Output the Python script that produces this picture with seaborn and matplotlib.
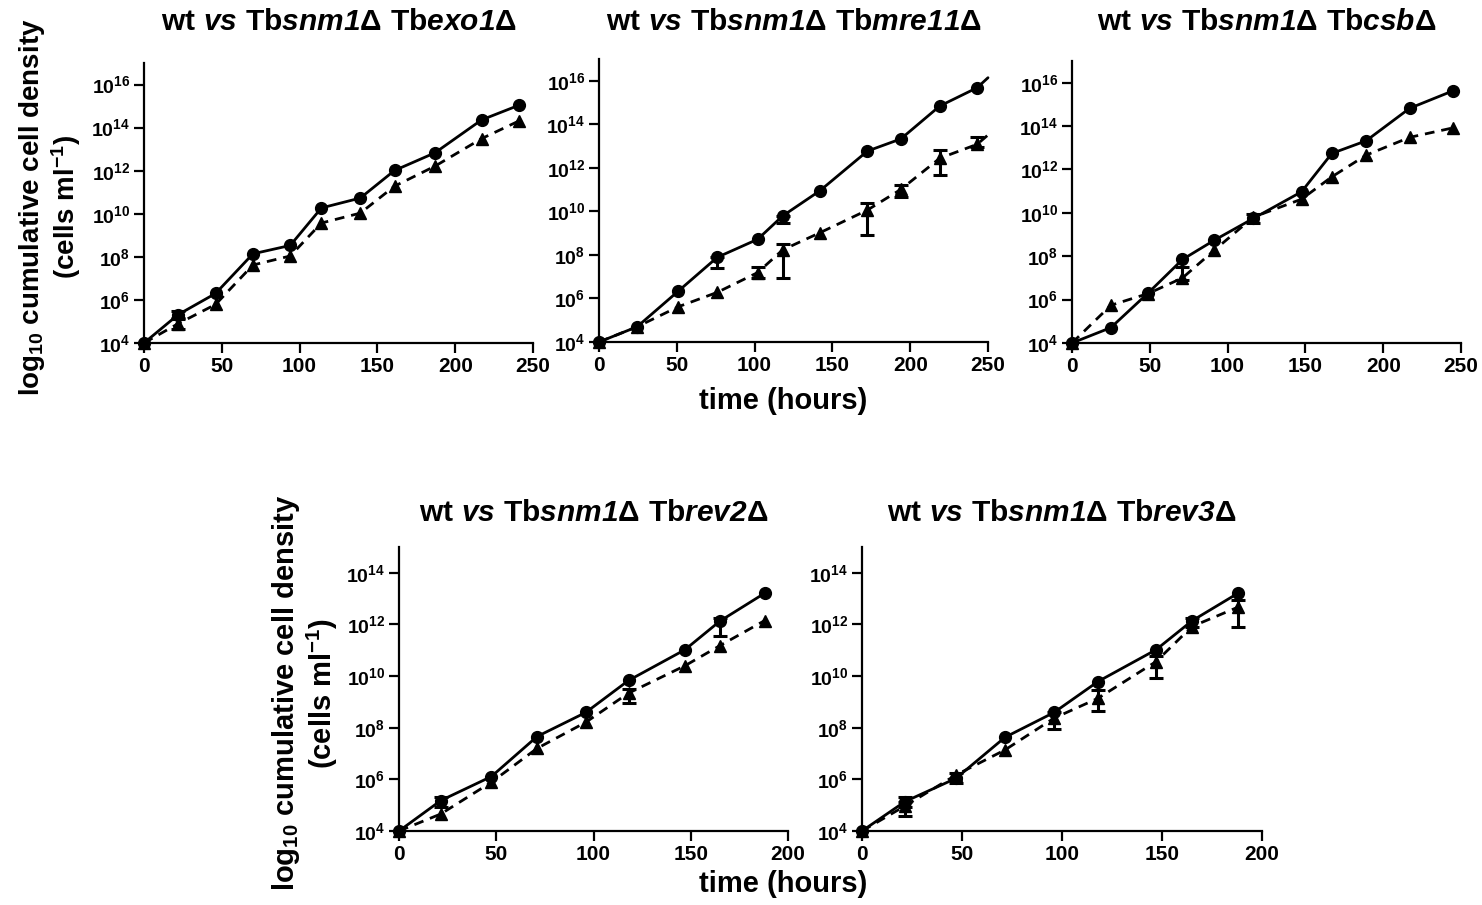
import numpy as np
import matplotlib
matplotlib.use("Agg")
import matplotlib.pyplot as plt
from matplotlib.ticker import FixedLocator, FuncFormatter, NullLocator
import seaborn as sns

# ---------- Data: log10 cumulative cell density ----------

exo1_time = [0, 22, 46, 70, 94, 114, 139, 161, 187, 217, 241]
exo1_wt = [4.0, 5.32, 6.30, 8.14, 8.53, 10.27, 10.73, 12.01, 12.83, 14.36, 15.04]
exo1_mut = [4.0, 4.90, 5.79, 7.62, 8.04, 9.57, 10.03, 11.28, 12.21, 13.49, 14.31]
# (time, low, high) error bars that stick out from the markers
exo1_err = [(22, 4.67, 5.13), (22, 5.15, 5.50)]

# last point of this panel is only where the lines run off the axis (no marker)
mre11_time = [0, 24.5, 51, 76, 102, 118, 142, 172.5, 194, 219, 243, 250]
mre11_wt = [4.0, 4.70, 6.34, 7.89, 8.72, 9.79, 10.95, 12.77, 13.33, 14.84, 15.68, 16.14]
mre11_mut = [4.0, 4.70, 5.62, 6.28, 7.19, 8.23, 9.02, 10.06, 11.01, 12.44, 13.08, 13.51]
mre11_err = [(76, 7.38, 7.89), (118, 9.45, 9.79), (102, 6.92, 7.46), (118, 6.92, 8.50),
             (172.5, 8.92, 10.37), (194, 10.68, 11.21), (219, 11.67, 12.82), (243, 12.97, 13.40)]

csb_time = [0, 25, 49, 71, 91.5, 116.5, 147.5, 167, 189, 217, 245]
csb_wt = [4.0, 4.71, 6.31, 7.85, 8.74, 9.74, 10.97, 12.74, 13.32, 14.82, 15.63]
csb_mut = [4.0, 5.74, 6.28, 7.00, 8.28, 9.80, 10.63, 11.66, 12.66, 13.48, 13.92]
csb_err = [(71, 6.90, 7.50), (116.5, 9.55, 9.95)]

rev2_time = [0, 21.5, 47.5, 71, 96, 118, 147, 165, 188]
rev2_wt = [4.0, 5.18, 6.11, 7.66, 8.59, 9.83, 11.02, 12.13, 13.21]
rev2_mut = [4.0, 4.66, 5.89, 7.20, 8.21, 9.34, 10.40, 11.18, 12.15]
rev2_err = [(21.5, 4.94, 5.33), (118, 8.97, 9.49), (165, 11.56, 12.24)]

rev3_time = [0, 21.5, 47, 71.5, 96, 118, 147, 165, 188]
rev3_wt = [4.0, 5.14, 6.04, 7.63, 8.59, 9.79, 11.02, 12.14, 13.21]
rev3_mut = [4.0, 4.97, 6.17, 7.14, 8.37, 9.14, 10.56, 11.92, 12.67]
rev3_err = [(21.5, 4.94, 5.33), (21.5, 4.58, 5.14), (47, 5.85, 6.24), (96, 7.94, 8.59),
            (118, 8.63, 9.47), (147, 9.92, 10.76), (165, 11.92, 12.24), (188, 11.92, 12.95)]

# gene names (italic parts of the titles)
genes = ["exo1", "mre11", "csb", "rev2", "rev3"]

# in the math strings below \mathrm is bold italic and \mathsf is bold upright
titles = [r"$\mathsf{wt}\ \mathrm{vs}\ \mathsf{Tb}\mathrm{snm1}\mathsf{\Delta}\ \mathsf{Tb}\mathrm{" + g
          + r"}\mathsf{\Delta}$" for g in genes]

ylabel = "$\\mathsf{log_{10}}$ cumulative cell density\n(cells ml$\\mathsf{^{-1}}$)"
xlabel = "time (hours)"

# ---------- Style ----------

sns.set_style("ticks", {"text.color": "black", "axes.labelcolor": "black",
                        "xtick.color": "black", "ytick.color": "black",
                        "axes.edgecolor": "black"})
plt.rcParams["font.family"] = ["Liberation Sans", "DejaVu Sans"]
plt.rcParams["font.weight"] = "bold"
plt.rcParams["mathtext.fontset"] = "custom"
plt.rcParams["mathtext.rm"] = "Liberation Sans:bold:italic"
plt.rcParams["mathtext.it"] = "Liberation Sans:bold:italic"
plt.rcParams["mathtext.sf"] = "Liberation Sans:bold"
plt.rcParams["mathtext.bf"] = "Liberation Sans:bold"

W, H = 1482, 905
fig = plt.figure(figsize=(W / 100, H / 100), dpi=100)


def px_axes(left, right, bottom, top):
    return fig.add_axes([left / W, 1 - bottom / H, (right - left) / W, (bottom - top) / H])


panels = [
    dict(ax=px_axes(144, 533, 343, 63), t=exo1_time, wt=exo1_wt, mut=exo1_mut, err=exo1_err,
         xmax=250, ymax=17, n_marked=len(exo1_time), title_y=22),
    dict(ax=px_axes(599, 988, 342, 59), t=mre11_time, wt=mre11_wt, mut=mre11_mut, err=mre11_err,
         xmax=250, ymax=17, n_marked=len(mre11_time) - 1, title_y=22),
    dict(ax=px_axes(1072, 1461, 343, 61), t=csb_time, wt=csb_wt, mut=csb_mut, err=csb_err,
         xmax=250, ymax=17, n_marked=len(csb_time), title_y=22),
    dict(ax=px_axes(399, 788, 831, 547), t=rev2_time, wt=rev2_wt, mut=rev2_mut, err=rev2_err,
         xmax=200, ymax=15, n_marked=len(rev2_time), title_y=513),
    dict(ax=px_axes(862, 1262, 831, 547), t=rev3_time, wt=rev3_wt, mut=rev3_mut, err=rev3_err,
         xmax=200, ymax=15, n_marked=len(rev3_time), title_y=513),
]

line_kw = dict(color="black", linewidth=2.0, markersize=8.5, markeredgecolor="black",
               markeredgewidth=1, clip_on=False)

for p, title in zip(panels, titles):
    ax = p["ax"]
    marks = list(range(p["n_marked"]))
    t = np.array(p["t"])

    sns.lineplot(x=t, y=10 ** np.array(p["wt"]), marker="o", linestyle="-",
                 markevery=marks, ax=ax, **line_kw)
    sns.lineplot(x=t, y=10 ** np.array(p["mut"]), marker="^", linestyle=(0, (3.5, 2.5)),
                 markevery=marks, ax=ax, **line_kw)

    for (et, lo, hi) in p["err"]:
        mid = (lo + hi) / 2
        ax.errorbar([et], [10 ** mid], yerr=[[10 ** mid - 10 ** lo], [10 ** hi - 10 ** mid]],
                    fmt="none", ecolor="black", elinewidth=2.2, capsize=5, capthick=2.2,
                    clip_on=False)

    ax.set_yscale("log")
    ax.set_xlim(0, p["xmax"])
    ax.set_ylim(1e4, 10 ** p["ymax"])
    ax.yaxis.set_major_locator(FixedLocator([10 ** k for k in range(4, p["ymax"], 2)]))
    ax.yaxis.set_minor_locator(NullLocator())
    ax.yaxis.set_major_formatter(
        FuncFormatter(lambda v, pos: f"$\\mathsf{{10^{{{int(round(np.log10(v)))}}}}}$"))
    ax.set_xticks(range(0, p["xmax"] + 1, 50))

    sns.despine(ax=ax)
    for s in ["left", "bottom"]:
        ax.spines[s].set_linewidth(1.6)
    ax.tick_params(axis="both", direction="out", length=7, width=1.6, pad=3)
    ax.tick_params(axis="x", labelsize=15)
    ax.tick_params(axis="y", labelsize=14)
    for lab in ax.get_xticklabels():
        lab.set_fontweight("bold")
    ax.set_xlabel("")
    ax.set_ylabel("")

    box = ax.get_position()
    fig.text(box.x0 + box.width / 2, 1 - p["title_y"] / H, title, ha="center", va="center",
             fontsize=21.5)

# shared axis labels
fig.text(50 / W, 1 - 207 / H, ylabel, rotation=90, ha="center", va="center",
         multialignment="center", fontsize=20, fontweight="bold", linespacing=1.1)
fig.text(305 / W, 1 - 693 / H, ylabel, rotation=90, ha="center", va="center",
         multialignment="center", fontsize=21, fontweight="bold", linespacing=1.1)
fig.text(783 / W, 1 - 401 / H, xlabel, ha="center", va="center", fontsize=21, fontweight="bold")
fig.text(783 / W, 1 - 884 / H, xlabel, ha="center", va="center", fontsize=21, fontweight="bold")

fig.savefig("out.png", dpi=100, facecolor="white")
